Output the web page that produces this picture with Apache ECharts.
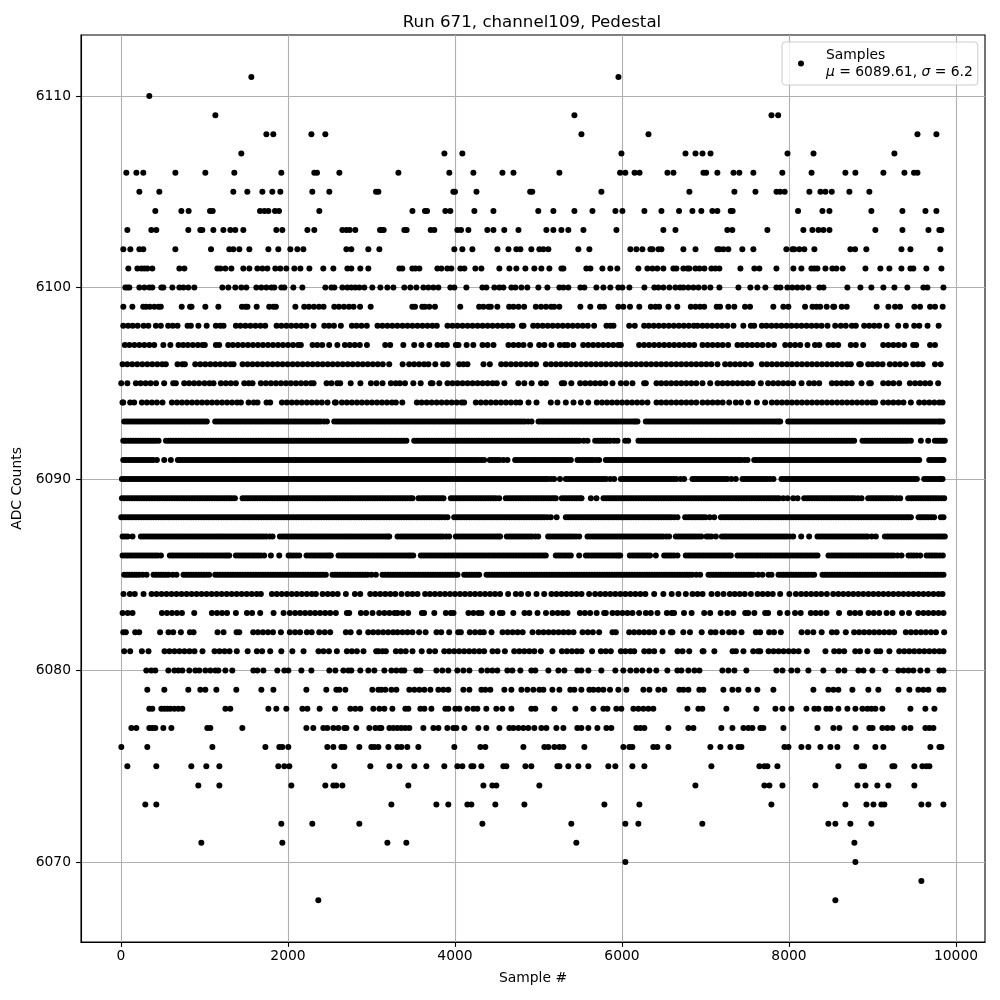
<!DOCTYPE html>
<html><head><meta charset="utf-8">
<style>html,body{margin:0;padding:0;background:#fff}#c{width:1000px;height:1000px}</style>
<script src="https://cdn.jsdelivr.net/npm/echarts@6/dist/echarts.min.js"></script>
</head><body><div id="c"></div>
<script>
const xTicks=[0,2000,4000,6000,8000,10000];
const yTicks=[6070,6080,6090,6100,6110];
const r6111=[1561,5957];
const r6110=[339];
const r6109=[1130,5430,7790,7870];
const r6108=[1741,1824,2280,2447,5514,6317,9538,9765];
const r6107=[1441,3873,4088,5993,6760,6880,6964,7060,7982,8293,9262];
const r6106=[64,184,267,651,1010,1357,1920,2315,2347,2615,3322,3932,4220,4568,4700,5250,5977,6040,6150,6210,6544,6616,6975,7008,7142,7335,7405,7573,7920,8270,8675,8795,9130,9382,9497,9538];
const r6105=[220,459,1345,1513,1693,1812,1908,2291,2495,3054,3082,3980,4000,4257,4900,4925,5753,6807,7346,7598,7850,7893,7948,8244,8376,8436,8512,8723,8962];
const r6104=[411,723,810,1066,1098,1665,1717,1765,1844,1892,2375,3490,3640,3665,3884,3944,4232,4460,4997,5178,5430,5646,5921,6005,6268,6472,6683,6843,6950,7082,7142,7302,7325,8108,8400,8484,8986,9358,9634,9765];
const r6103=[76,363,423,806,950,974,1106,1226,1309,1369,1465,1860,1932,2232,2315,2651,2699,2739,2806,3102,3122,3146,3393,3421,3709,3752,4028,4072,4160,4387,4460,4590,4760,5094,5178,5274,5357,5538,5933,6495,6640,7261,7321,7741,8172,8280,8352,8412,8484,9034,9358,9670,9800,9824];
const r6102=[28,112,220,267,651,1078,1297,1345,1417,1537,1765,1884,2028,2112,2184,2699,2758,2962,3094,3992,4088,4208,4508,4640,4735,4783,4914,5010,5058,5118,5477,5609,6100,6172,6244,6340,6364,6436,6472,6735,6880,7142,7166,7214,7273,7441,7573,7968,8040,8063,8123,8183,8304,8735,8791,8926,9346,9454,9812];
const r6101=[88,196,244,280,315,375,699,759,1154,1190,1250,1322,1465,1537,1633,1693,1753,1848,1908,1980,2076,2148,2256,2423,2543,2711,2758,2866,2962,3334,3369,3489,3525,3573,3789,3837,3908,3956,4064,4112,4244,4316,4531,4651,4735,4843,4950,5034,5130,5274,5298,5573,5621,5765,5860,5944,6196,6304,6364,6423,6495,6615,6651,6735,6783,6807,6879,6927,6986,7070,7118,7166,7418,7585,7645,7849,8052,8148,8268,8304,8340,8436,8519,8567,8643,8915,9094,9202,9346,9454,9489,9645,9825];
const r6100=[52,76,100,220,280,339,375,483,507,615,699,747,806,878,1214,1285,1369,1441,1501,1621,1681,1741,1801,1836,1920,1956,2064,2172,2447,2519,2555,2651,2711,2758,2806,2854,2914,3010,3106,3190,3262,3393,3465,3537,3621,3681,3741,3801,3944,3992,4136,4328,4376,4471,4531,4579,4675,4723,4795,4866,4998,5106,5250,5298,5357,5501,5549,5693,5777,5860,5956,6004,6088,6268,6387,6435,6495,6567,6639,6695,6735,6795,6855,6915,6986,7058,7166,7394,7537,7621,7717,7849,7897,7980,8040,8100,8160,8232,8364,8412,8699,8855,8986,9130,9262,9417,9609,9657,9849];
const r6099=[28,136,266,300,345,400,450,477,727,827,845,1010,1166,1448,1490,1515,1625,1775,1825,1855,2088,2194,2250,2310,2370,2426,2554,2610,2670,2730,2785,2863,2990,3489,3521,3608,3640,3692,3760,4063,4289,4340,4400,4429,4507,4648,4700,4760,4828,4968,5030,5090,5150,5187,5249,5501,5620,5736,5784,5956,6016,6096,6207,6345,6400,6445,6555,6662,6824,6880,6934,6984,7134,7174,7273,7345,7473,7533,7812,7932,7992,8192,8281,8330,8373,8451,8529,8541,8631,8691,9050,9190,9270,9330,9501,9569,9689,9748,9840];
const r6098=[27,85,140,200,270,328,418,477,565,620,677,797,837,927,1026,1136,1190,1228,1376,1430,1490,1550,1610,1670,1727,1863,1920,1980,2040,2100,2160,2220,2306,2434,2490,2550,2633,2765,2820,2880,2944,3072,3130,3190,3250,3310,3371,3430,3490,3550,3610,3670,3730,3782,3910,3970,4030,4090,4150,4210,4270,4330,4390,4450,4510,4570,4630,4688,4800,4820,4936,4990,5050,5110,5170,5230,5290,5350,5410,5470,5530,5590,5666,5814,5860,5898,6086,6153,6265,6320,6380,6440,6500,6560,6620,6680,6740,6800,6860,6904,6964,7020,7080,7140,7200,7260,7335,7453,7543,7583,7675,7730,7790,7850,7910,7970,8030,8090,8150,8210,8270,8330,8390,8461,8553,8620,8680,8753,8800,8900,8960,9020,9080,9170,9307,9399,9499,9560,9659,9792];
const r6097=[46,100,160,220,280,340,398,507,591,689,745,800,860,920,975,1004,1136,1176,1284,1340,1400,1460,1520,1580,1640,1700,1760,1820,1880,1940,2000,2060,2120,2154,2294,2350,2410,2493,2591,2681,2740,2800,2860,2945,3164,3224,3381,3511,3598,3692,3790,3850,3902,4010,4042,4139,4219,4329,4390,4461,4640,4700,4760,4820,4900,5008,5070,5155,5255,5310,5347,5417,5535,5595,5655,5715,5775,5835,5895,5955,5986,6205,6265,6325,6385,6445,6505,6565,6625,6685,6745,6805,6864,6964,7025,7085,7145,7205,7271,7383,7440,7500,7560,7620,7682,7752,7820,7954,8014,8074,8134,8221,8311,8363,8473,8530,8589,8740,8800,8888,9128,9190,9250,9310,9379,9487,9523,9689,9748];
const r6096=[19,75,135,195,255,315,375,435,495,537,677,735,765,889,950,1010,1070,1130,1190,1250,1310,1348,1456,1515,1575,1635,1695,1755,1815,1875,1935,1995,2055,2115,2175,2235,2295,2355,2415,2475,2535,2595,2655,2715,2775,2835,2895,2955,3015,3075,3135,3212,3373,3451,3510,3570,3630,3682,3764,3858,3910,4050,4100,4149,4341,4417,4553,4610,4670,4730,4790,4850,4910,4970,5088,5150,5210,5270,5330,5390,5450,5510,5570,5630,5690,5750,5810,5870,5930,5990,6050,6110,6170,6230,6290,6350,6410,6470,6530,6590,6650,6710,6770,6830,6890,6950,7010,7070,7143,7235,7295,7355,7415,7475,7543,7675,7735,7795,7855,7915,7975,8035,8095,8155,8215,8275,8335,8395,8455,8515,8575,8635,8695,8740,8840,8860,8948,9000,9060,9120,9207,9270,9330,9399,9487,9545,9599,9748,9816];
const r6095=[3,76,178,235,295,355,420,517,625,657,757,815,875,935,1000,1060,1108,1196,1255,1315,1376,1476,1530,1575,1675,1735,1795,1855,1915,1975,2035,2095,2155,2215,2275,2306,2462,2520,2590,2625,2751,2867,2993,3060,3132,3232,3290,3340,3401,3501,3589,3710,3730,3812,3910,3970,4030,4090,4150,4210,4270,4330,4390,4450,4501,4591,4758,4830,4918,5030,5088,5279,5307,5393,5499,5560,5620,5680,5740,5800,5886,5986,6050,6125,6265,6285,6413,6470,6530,6590,6650,6710,6770,6830,6890,6964,7056,7144,7204,7264,7324,7384,7444,7504,7564,7662,7750,7810,7870,7930,7990,8050,8150,8241,8300,8361,8513,8570,8630,8690,8750,8868,8960,8980,9128,9190,9250,9319,9447,9510,9570,9630,9690,9786];
const r6094=[18,27,110,158,250,310,370,430,497,609,670,730,790,850,910,970,1030,1090,1150,1210,1270,1330,1390,1436,1528,1590,1635,1743,1787,1927,1985,2045,2105,2165,2225,2285,2345,2405,2473,2561,2573,2645,2705,2765,2825,2885,2945,3005,3065,3125,3185,3245,3292,3369,3543,3600,3660,3720,3780,3840,3900,3960,4020,4080,4109,4249,4310,4370,4430,4490,4550,4610,4670,4730,4780,4880,4976,5147,5227,5327,5419,5507,5595,5698,5760,5820,5880,5940,6000,6060,6120,6180,6240,6305,6413,6470,6530,6590,6650,6710,6770,6830,6890,6964,7025,7085,7145,7205,7283,7363,7425,7511,7615,7714,7794,7855,7915,7975,8035,8095,8155,8215,8275,8335,8395,8455,8515,8575,8635,8695,8755,8815,8875,8935,8995,9032,9128,9190,9250,9310,9370,9459,9559,9620,9680,9740,9800,9838];
const r6093=[38,98,160,220,280,340,400,460,520,580,640,700,760,820,880,940,1000,1028,1128,1190,1250,1310,1370,1430,1490,1550,1610,1670,1730,1790,1850,1910,1970,2030,2090,2150,2210,2270,2330,2390,2466,2554,2615,2675,2735,2795,2855,2915,2975,3035,3095,3155,3215,3275,3335,3395,3455,3515,3575,3635,3695,3755,3815,3875,3935,3995,4055,4115,4175,4235,4295,4355,4415,4475,4535,4595,4655,4715,4775,4835,4916,5000,5060,5120,5180,5240,5300,5360,5420,5480,5540,5600,5660,5720,5780,5840,5900,5960,6020,6080,6140,6185,6285,6345,6405,6465,6525,6585,6645,6705,6765,6825,6885,6945,7005,7065,7125,7185,7245,7305,7365,7425,7485,7545,7605,7665,7725,7785,7845,7894,7990,8050,8110,8170,8230,8290,8350,8410,8470,8530,8590,8650,8710,8770,8830,8890,8950,9010,9070,9130,9190,9250,9310,9370,9430,9490,9550,9610,9670,9730,9790,9838];
const r6092=[27,85,145,205,265,325,385,450,538,598,658,718,778,838,898,958,1018,1078,1138,1198,1258,1318,1378,1438,1498,1558,1618,1678,1738,1798,1858,1918,1978,2038,2098,2158,2218,2278,2338,2398,2458,2518,2578,2638,2698,2758,2818,2878,2938,2998,3058,3118,3178,3238,3298,3358,3418,3511,3570,3630,3690,3750,3810,3870,3930,3990,4050,4110,4170,4230,4290,4350,4410,4470,4530,4590,4650,4710,4770,4830,4890,4950,5010,5070,5130,5190,5250,5310,5370,5430,5490,5587,5678,5740,5800,5860,5946,6038,6074,6197,6260,6320,6380,6440,6500,6560,6620,6680,6740,6800,6860,6920,6980,7040,7100,7160,7220,7280,7340,7400,7460,7520,7580,7640,7700,7760,7820,7880,7940,8000,8060,8120,8180,8240,8300,8360,8420,8480,8540,8600,8660,8720,8780,8880,8940,9000,9060,9120,9180,9240,9300,9360,9420,9459,9579,9667,9747,9810,9866];
const r6091=[27,85,145,205,265,325,385,430,518,597,681,740,800,860,920,980,1040,1100,1160,1220,1280,1340,1400,1460,1520,1580,1640,1700,1760,1820,1880,1940,2000,2060,2120,2180,2240,2300,2360,2420,2480,2540,2600,2660,2720,2780,2840,2900,2960,3020,3080,3140,3200,3260,3320,3380,3440,3500,3560,3620,3680,3740,3800,3860,3920,3980,4040,4100,4160,4220,4280,4349,4417,4475,4535,4628,4720,4780,4840,4900,4960,5020,5080,5140,5200,5260,5320,5387,5467,5530,5590,5650,5726,5806,5865,5925,5985,6045,6105,6165,6225,6285,6345,6405,6465,6525,6585,6645,6705,6765,6825,6885,6945,7005,7065,7125,7185,7245,7305,7365,7425,7503,7583,7645,7705,7765,7825,7885,7945,8005,8065,8125,8185,8245,8305,8365,8425,8485,8545,8605,8665,8725,8785,8845,8905,8965,9025,9085,9145,9205,9265,9325,9385,9445,9505,9559,9679,9740,9800,9850];
const r6090=[11,70,130,190,250,310,370,430,490,550,610,670,730,790,850,910,970,1030,1090,1150,1210,1270,1330,1390,1450,1510,1570,1630,1690,1750,1810,1870,1930,1990,2050,2110,2170,2230,2290,2350,2410,2470,2530,2590,2650,2710,2770,2830,2890,2950,3010,3070,3130,3190,3250,3310,3370,3430,3490,3550,3610,3670,3730,3790,3850,3910,3970,4030,4090,4150,4210,4270,4330,4390,4450,4510,4570,4630,4690,4750,4810,4870,4930,4990,5050,5110,5187,5257,5327,5390,5450,5510,5570,5630,5690,5750,5810,5906,5986,6050,6110,6170,6230,6290,6350,6410,6470,6530,6590,6650,6744,6844,6900,6960,7020,7080,7140,7200,7260,7363,7443,7500,7560,7620,7680,7740,7814,7910,7970,8030,8090,8150,8210,8270,8330,8390,8450,8510,8570,8630,8690,8750,8810,8870,8930,8990,9050,9110,9170,9230,9290,9350,9410,9470,9531,9619,9680,9740,9800,9838];
const r6089=[11,70,130,190,250,310,370,430,490,550,610,670,730,790,850,910,970,1030,1090,1150,1210,1270,1330,1364,1456,1515,1575,1635,1695,1755,1815,1875,1935,1995,2055,2115,2175,2235,2295,2355,2415,2475,2535,2595,2655,2715,2775,2835,2895,2955,3015,3075,3135,3195,3255,3315,3375,3435,3491,3563,3625,3685,3745,3805,3862,3950,4010,4070,4130,4190,4250,4310,4370,4430,4490,4529,4608,4670,4730,4790,4850,4910,4970,5030,5090,5150,5207,5279,5340,5400,5460,5515,5627,5694,5778,5840,5900,5960,6020,6080,6140,6200,6260,6320,6380,6440,6500,6560,6620,6680,6740,6800,6860,6920,6980,7040,7100,7160,7220,7280,7340,7400,7460,7520,7580,7640,7700,7760,7820,7880,7982,8050,8102,8182,8245,8305,8365,8425,8485,8545,8605,8665,8725,8785,8868,8948,9010,9070,9130,9190,9250,9331,9427,9490,9550,9610,9670,9730,9790,9858];
const r6088=[3,60,120,180,240,300,360,420,480,540,600,660,720,780,840,900,960,1020,1080,1140,1200,1260,1320,1380,1440,1500,1560,1620,1680,1740,1800,1860,1920,1980,2040,2100,2160,2220,2280,2340,2400,2460,2520,2580,2640,2700,2760,2820,2880,2940,3000,3060,3120,3180,3240,3300,3360,3420,3480,3540,3600,3660,3720,3780,3840,3910,3990,4050,4110,4170,4230,4290,4350,4410,4470,4530,4590,4650,4710,4770,4830,4890,4950,5010,5070,5147,5217,5327,5390,5450,5510,5570,5630,5690,5750,5810,5870,5930,5990,6050,6110,6170,6230,6290,6350,6410,6470,6530,6590,6664,6756,6820,6880,6940,7000,7104,7184,7245,7305,7365,7425,7485,7545,7605,7665,7725,7785,7845,7905,7965,8025,8085,8145,8205,8265,8325,8385,8445,8505,8565,8625,8685,8745,8805,8865,8925,8985,9045,9105,9165,9225,9285,9345,9405,9459,9551,9610,9670,9738,9818,9850];
const r6087=[19,80,138,238,300,360,420,480,540,600,660,720,780,840,900,960,1020,1080,1140,1200,1260,1320,1380,1440,1500,1560,1620,1680,1740,1815,1903,1965,2025,2085,2145,2205,2265,2325,2385,2445,2505,2565,2625,2685,2745,2805,2865,2925,2985,3045,3105,3165,3212,3312,3375,3435,3495,3555,3615,3675,3735,3795,3855,3930,4010,4070,4130,4190,4250,4310,4370,4430,4490,4540,4620,4680,4740,4800,4860,4920,4996,5115,5175,5235,5295,5355,5415,5487,5587,5650,5710,5770,5830,5890,5950,6010,6070,6130,6190,6250,6310,6370,6430,6490,6564,6644,6705,6765,6825,6885,6950,7012,7070,7124,7196,7255,7315,7375,7435,7495,7555,7615,7675,7735,7795,7855,7915,7975,8050,8146,8241,8341,8400,8460,8520,8580,8640,8700,8760,8820,8880,8940,9040,9148,9210,9270,9330,9390,9450,9510,9570,9630,9690,9750,9810,9866];
const r6086=[19,80,140,200,260,320,380,440,478,585,645,705,765,825,885,945,1005,1065,1125,1185,1245,1296,1376,1436,1496,1556,1616,1676,1715,1795,1895,2007,2067,2134,2222,2285,2345,2405,2465,2513,2605,2665,2725,2785,2845,2905,2965,3025,3085,3145,3205,3265,3325,3385,3445,3499,3591,3650,3710,3770,3830,3890,3950,4010,4070,4130,4190,4250,4310,4370,4430,4490,4550,4610,4670,4730,4790,4850,4910,4970,5030,5087,5207,5267,5327,5387,5487,5567,5630,5690,5750,5810,5870,5930,5978,6094,6155,6215,6275,6335,6405,6505,6565,6625,6664,6764,6825,6885,6945,7005,7065,7125,7185,7245,7303,7383,7445,7505,7565,7625,7685,7745,7805,7865,7925,7985,8045,8105,8165,8225,8285,8341,8473,8535,8595,8655,8715,8775,8835,8895,8955,9015,9075,9135,9195,9255,9347,9431,9495,9571,9647,9710,9770,9842];
const r6085=[38,98,158,218,306,390,450,510,570,665,749,810,870,930,990,1056,1128,1190,1250,1310,1370,1430,1490,1550,1610,1670,1730,1790,1850,1910,1970,2030,2090,2150,2210,2270,2330,2390,2453,2533,2595,2655,2715,2775,2835,2895,2955,3052,3132,3195,3255,3315,3375,3435,3495,3555,3615,3675,3735,3795,3855,3915,3975,4030,4110,4170,4230,4289,4377,4440,4500,4560,4620,4680,4740,4800,4860,4920,4980,5040,5100,5160,5220,5280,5340,5400,5460,5520,5580,5640,5700,5760,5820,5880,5940,6000,6060,6120,6180,6240,6300,6360,6420,6480,6540,6600,6660,6720,6780,6840,6936,7036,7095,7155,7215,7275,7335,7395,7455,7515,7575,7682,7754,7790,7874,7935,7995,8055,8115,8175,8235,8301,8401,8460,8520,8580,8640,8700,8760,8820,8880,8940,9000,9060,9120,9180,9240,9300,9360,9420,9480,9540,9600,9660,9720,9780,9850];
const r6084=[30,106,165,270,366,425,485,545,605,665,725,785,845,905,965,1025,1085,1145,1205,1265,1325,1385,1445,1505,1565,1625,1675,1807,1865,1925,1985,2045,2105,2165,2225,2285,2334,2414,2475,2535,2595,2693,2801,2865,2985,3045,3105,3165,3225,3285,3359,3431,3490,3551,3642,3700,3760,3820,3880,3940,4000,4060,4120,4180,4240,4300,4360,4420,4480,4540,4636,4728,4790,4876,4976,5068,5155,5215,5275,5335,5395,5455,5515,5606,5678,5740,5800,5860,5920,5980,6040,6100,6160,6220,6280,6385,6495,6595,6676,6764,6844,6905,6965,7072,7144,7215,7291,7350,7410,7470,7543,7623,7685,7745,7805,7894,8004,8082,8145,8205,8265,8325,8385,8453,8529,8590,8650,8710,8770,8830,8890,8950,9010,9070,9130,9190,9250,9310,9370,9430,9490,9550,9610,9670,9730,9790,9838];
const r6083=[19,80,138,490,550,610,670,730,877,1088,1150,1210,1270,1376,1508,1570,1667,1827,1947,2022,2085,2145,2205,2265,2325,2385,2445,2505,2573,2705,2733,2873,2935,3012,3092,3155,3215,3275,3311,3371,3439,3603,3630,3752,3890,3950,3982,4161,4220,4280,4317,4447,4537,4568,4698,4832,4890,4988,5089,5167,5230,5290,5347,5495,5555,5618,5696,5786,5806,5886,5945,6005,6065,6125,6205,6285,6345,6425,6537,6595,6624,6742,6834,6984,7056,7181,7261,7333,7475,7511,7585,7714,7750,7890,7982,8072,8140,8261,8320,8380,8449,8599,8728,8790,8852,8952,9015,9080,9168,9239,9353,9437,9547,9610,9670,9730,9790,9850];
const r6082=[27,58,170,218,468,569,625,717,825,869,1156,1228,1384,1416,1583,1640,1700,1760,1820,1915,2022,2085,2145,2226,2284,2374,2440,2505,2693,2750,2853,2961,3020,3080,3140,3200,3260,3311,3371,3430,3490,3570,3648,3778,3835,3930,4038,4070,4177,4240,4300,4345,4437,4569,4630,4690,4750,4810,4928,5000,5060,5120,5180,5240,5300,5360,5419,5527,5590,5650,5726,5886,5926,6086,6145,6205,6265,6325,6385,6485,6585,6604,6734,6814,6954,7064,7120,7203,7283,7345,7431,7603,7654,7762,7820,7902,8150,8221,8291,8391,8513,8570,8680,8780,8840,8900,8960,9020,9080,9140,9200,9259,9399,9460,9520,9580,9640,9700,9760,9858];
const r6081=[38,110,250,329,521,580,640,700,760,820,880,976,1120,1180,1240,1300,1387,1517,1627,1690,1787,1920,2052,2186,2365,2425,2490,2585,2705,2765,2825,2904,3056,3084,3132,3172,3292,3350,3410,3491,3601,3693,3761,3871,3930,3990,4050,4110,4170,4230,4290,4349,4449,4510,4597,4709,4770,4830,4890,4950,5028,5166,5280,5340,5400,5460,5515,5641,5747,5805,5866,5986,6040,6100,6146,6266,6325,6385,6485,6665,6725,6805,6965,6976,7106,7324,7364,7454,7571,7630,7655,7755,7815,7875,7935,7995,8055,8115,8214,8436,8541,8600,8661,8793,8850,8940,9048,9092,9202,9320,9380,9440,9500,9560,9620,9680,9740,9800,9849];
const r6080=[303,363,411,567,639,687,735,818,890,938,1010,1070,1130,1166,1250,1333,1585,1633,1705,1872,1956,2004,2160,2280,2495,2567,2663,2723,2758,2866,2962,3034,3154,3238,3298,3358,3393,3537,3585,3777,3848,3920,4028,4100,4172,4316,4387,4447,4507,4627,4687,4783,4914,4962,5118,5238,5310,5465,5513,5597,5753,5920,6016,6100,6172,6244,6328,6411,6543,6663,6711,6795,6867,6927,7202,7274,7346,7489,7849,7921,8028,8100,8232,8411,8591,8663,8831,8891,8998,9154,9310,9370,9430,9489,9573,9657,9801,9849];
const r6079=[315,519,806,950,1010,1142,1381,1681,1825,2220,2459,2579,2615,2687,3010,3082,3118,3166,3238,3298,3453,3513,3573,3633,3705,3801,3860,3920,4100,4172,4316,4363,4423,4591,4675,4795,4866,4938,5010,5058,5166,5250,5381,5429,5513,5609,5657,5717,5777,5856,5956,6052,6256,6328,6435,6507,6687,6735,6795,6926,6974,7214,7322,7394,7513,7621,7813,8292,8471,8531,8591,8759,8950,9070,9310,9441,9549,9609,9669,9801,9849];
const r6078=[339,375,483,519,555,591,639,687,735,1250,1309,1765,1860,1980,2172,2232,2379,2563,2747,2806,2866,3022,3094,3154,3250,3405,3441,3585,3633,3717,3884,3920,4004,4052,4148,4220,4268,4375,4495,4567,4675,4914,4962,5190,5441,5657,5777,5825,5932,5992,6136,6196,6256,6316,6375,6783,6915,6962,7250,7609,7837,7921,8028,8208,8304,8352,8447,8495,8591,8699,8795,8879,8938,8986,9034,9118,9454,9633,9741];
const r6077=[124,184,339,375,411,507,603,1034,1070,1453,2220,2303,2423,2471,2543,2603,2675,2699,2818,2974,3046,3094,3118,3214,3262,3310,3358,3405,3453,3621,3741,3801,3908,3980,4016,4112,4280,4375,4531,4651,4699,4759,4819,4878,4950,5034,5094,5214,5298,5465,5513,5597,5705,5813,5872,6172,6220,6268,6555,6795,6855,7190,7322,7454,7513,7561,7657,7693,7933,8340,8531,8603,8795,8962,9000,9118,9178,9238,9382,9454,9633,9681,9729];
const r6076=[4,315,1094,1729,1896,1932,2004,2471,2543,2639,2675,2854,2998,3034,3082,3202,3310,3358,3429,3561,3992,4304,4363,4819,5070,5118,5190,5250,5298,5549,6016,6088,6124,6375,6423,6555,7058,7178,7298,7394,7430,7945,7993,8148,8232,8376,8495,8579,8807,9034,9130,9693,9801,9825];
const r6075=[76,423,842,1022,1178,1884,1956,2016,2555,2986,3214,3334,3513,3657,3872,4028,4088,4196,4220,4316,4579,4615,4843,4914,5226,5250,5357,5477,5597,5836,5920,6124,6268,7070,7645,7705,7741,7861,8591,8867,8899,9238,9262,9501,9597,9645,9681];
const r6074=[926,1178,2040,2447,2543,2579,2651,3441,4340,4447,4495,5010,6879,7705,7765,7921,8316,8819,8915,9058,9190,9501];
const r6073=[291,423,3238,3777,3920,4148,4196,4483,4831,5789,6208,7789,8675,8927,9011,9106,9142,9585,9669,9849];
const r6072=[1920,2291,2854,4328,5393,6040,6196,6962,8471,8555,8735,8986];
const r6071=[962,1932,3190,3417,5453,8783];
const r6070=[6040,8795];
const r6069=[9585];
const r6068=[2363,8555];
const f6093=[68,130,190,250,310,370,430,490,550,610,670,730,790,850,910,970,1158,1220,1280,1340,1400,1460,1520,1580,1640,1700,1760,1820,1880,1940,2000,2060,2120,2180,2240,2300,2360,2430,2585,2645,2705,2765,2825,2885,2945,3005,3065,3125,3185,3245,3305,3365,3425,3485,3545,3605,3665,3725,3785,3845,3905,3965,4025,4085,4145,4205,4265,4325,4385,4445,4505,4565,4625,4685,4745,4805,4875,5030,5090,5150,5210,5270,5330,5390,5450,5510,5570,5630,5690,5750,5810,5870,5930,5990,6050,6110,6160,6315,6375,6435,6495,6555,6615,6675,6735,6795,6855,6915,6975,7035,7095,7155,7215,7275,7335,7395,7455,7515,7575,7635,7695,7755,7815,7870,8020,8080,8140,8200,8260,8320,8380,8440,8500,8560,8620,8680,8740,8800,8860,8920,8980,9040,9100,9160,9220,9280,9340,9400,9460,9520,9580,9640,9700,9760,9810];
const f6092=[55,115,175,235,295,355,415,568,628,688,748,808,868,928,988,1048,1108,1168,1228,1288,1348,1408,1468,1528,1588,1648,1708,1768,1828,1888,1948,2008,2068,2128,2188,2248,2308,2368,2428,2488,2548,2608,2668,2728,2788,2848,2908,2968,3028,3088,3148,3208,3268,3328,3388,3540,3600,3660,3720,3780,3840,3900,3960,4020,4080,4140,4200,4260,4320,4380,4440,4500,4560,4620,4680,4740,4800,4860,4920,4980,5040,5100,5160,5220,5280,5340,5400,5460,5540,5710,5770,5830,5905,6230,6290,6350,6410,6470,6530,6590,6650,6710,6770,6830,6890,6950,7010,7070,7130,7190,7250,7310,7370,7430,7490,7550,7610,7670,7730,7790,7850,7910,7970,8030,8090,8150,8210,8270,8330,8390,8450,8510,8570,8630,8690,8750,8910,8970,9030,9090,9150,9210,9270,9330,9390,9779,9838];
const f6091=[55,115,175,235,295,355,710,770,830,890,950,1010,1070,1130,1190,1250,1310,1370,1430,1490,1550,1610,1670,1730,1790,1850,1910,1970,2030,2090,2150,2210,2270,2330,2390,2450,2510,2570,2630,2690,2750,2810,2870,2930,2990,3050,3110,3170,3230,3290,3350,3410,3470,3530,3590,3650,3710,3770,3830,3890,3950,4010,4070,4130,4190,4250,4315,4445,4505,4580,4750,4810,4870,4930,4990,5050,5110,5170,5230,5290,5350,5497,5560,5620,5690,5835,5895,5955,6015,6075,6135,6195,6255,6315,6375,6435,6495,6555,6615,6675,6735,6795,6855,6915,6975,7035,7095,7155,7215,7275,7335,7395,7465,7613,7675,7735,7795,7855,7915,7975,8035,8095,8155,8215,8275,8335,8395,8455,8515,8575,8635,8695,8755,8815,8875,8935,8995,9055,9115,9175,9235,9295,9355,9415,9475,9530,9710,9770,9825];
const f6090=[40,100,160,220,280,340,400,460,520,580,640,700,760,820,880,940,1000,1060,1120,1180,1240,1300,1360,1420,1480,1540,1600,1660,1720,1780,1840,1900,1960,2020,2080,2140,2200,2260,2320,2380,2440,2500,2560,2620,2680,2740,2800,2860,2920,2980,3040,3100,3160,3220,3280,3340,3400,3460,3520,3580,3640,3700,3760,3820,3880,3940,4000,4060,4120,4180,4240,4300,4360,4420,4480,4540,4600,4660,4720,4780,4840,4900,4960,5020,5080,5150,5358,5420,5480,5540,5600,5660,5720,5780,5860,6018,6080,6140,6200,6260,6320,6380,6440,6500,6560,6620,6700,6870,6930,6990,7050,7110,7170,7230,7310,7470,7530,7590,7650,7710,7775,7940,8000,8060,8120,8180,8240,8300,8360,8420,8480,8540,8600,8660,8720,8780,8840,8900,8960,9020,9080,9140,9200,9260,9320,9380,9440,9500,9650,9710,9770,9820];
const f6089=[40,100,160,220,280,340,400,460,520,580,640,700,760,820,880,940,1000,1060,1120,1180,1240,1300,1485,1545,1605,1665,1725,1785,1845,1905,1965,2025,2085,2145,2205,2265,2325,2385,2445,2505,2565,2625,2685,2745,2805,2865,2925,2985,3045,3105,3165,3225,3285,3345,3405,3465,3595,3655,3715,3775,3835,3980,4040,4100,4160,4220,4280,4340,4400,4460,4640,4700,4760,4820,4880,4940,5000,5060,5120,5180,5310,5370,5430,5490,5810,5870,5930,5990,6050,6110,6170,6230,6290,6350,6410,6470,6530,6590,6650,6710,6770,6830,6890,6950,7010,7070,7130,7190,7250,7310,7370,7430,7490,7550,7610,7670,7730,7790,7850,7930,8215,8275,8335,8395,8455,8515,8575,8635,8695,8755,8825,8980,9040,9100,9160,9220,9290,9460,9520,9580,9640,9700,9760,9825];
const f6088=[30,90,150,210,270,330,390,450,510,570,630,690,750,810,870,930,990,1050,1110,1170,1230,1290,1350,1410,1470,1530,1590,1650,1710,1770,1830,1890,1950,2010,2070,2130,2190,2250,2310,2370,2430,2490,2550,2610,2670,2730,2790,2850,2910,2970,3030,3090,3150,3210,3270,3330,3390,3450,3510,3570,3630,3690,3750,3810,3875,4020,4080,4140,4200,4260,4320,4380,4440,4500,4560,4620,4680,4740,4800,4860,4920,4980,5040,5105,5358,5420,5480,5540,5600,5660,5720,5780,5840,5900,5960,6020,6080,6140,6200,6260,6320,6380,6440,6500,6560,6625,6790,6850,6910,6970,7050,7215,7275,7335,7395,7455,7515,7575,7635,7695,7755,7815,7875,7935,7995,8055,8115,8175,8235,8295,8355,8415,8475,8535,8595,8655,8715,8775,8835,8895,8955,9015,9075,9135,9195,9255,9315,9375,9430,9580,9640,9705];
const f6087=[50,268,330,390,450,510,570,630,690,750,810,870,930,990,1050,1110,1170,1230,1290,1350,1410,1470,1530,1590,1650,1710,1780,1935,1995,2055,2115,2175,2235,2295,2355,2415,2475,2535,2595,2655,2715,2775,2835,2895,2955,3015,3075,3135,3190,3345,3405,3465,3525,3585,3645,3705,3765,3825,3895,4040,4100,4160,4220,4280,4340,4400,4460,4515,4650,4710,4770,4830,4890,4960,5145,5205,5265,5325,5385,5450,5618,5680,5740,5800,5860,5920,5980,6040,6100,6160,6220,6280,6340,6400,6460,6530,6675,6735,6795,6855,6918,7040,7226,7285,7345,7405,7465,7525,7585,7645,7705,7765,7825,7885,7945,8010,8370,8430,8490,8550,8610,8670,8730,8790,8850,8910,8990,9180,9240,9300,9360,9420,9480,9540,9600,9660,9720,9780,9838];
const f6086=[50,110,170,230,290,350,410,615,675,735,795,855,915,975,1035,1095,1155,1215,1270,1406,1466,1526,1586,1646,2035,2100,2255,2315,2375,2435,2490,2635,2695,2755,2815,2875,2935,2995,3055,3115,3175,3235,3295,3355,3415,3470,3620,3680,3740,3800,3860,3920,3980,4040,4100,4160,4220,4280,4340,4400,4460,4520,4580,4640,4700,4760,4820,4880,4940,5000,5060,5237,5297,5357,5598,5660,5720,5780,5840,5900,5955,6125,6185,6245,6305,6535,6595,6795,6855,6915,6975,7035,7095,7155,7215,7275,7414,7475,7535,7595,7655,7715,7775,7835,7895,7955,8015,8075,8135,8195,8255,8315,8504,8565,8625,8685,8745,8805,8865,8925,8985,9045,9105,9165,9225,9300,9463,9530,9680,9740,9805];
const f6085=[68,128,188,260,420,480,540,620,780,840,900,960,1020,1158,1220,1280,1340,1400,1460,1520,1580,1640,1700,1760,1820,1880,1940,2000,2060,2120,2180,2240,2300,2360,2420,2564,2625,2685,2745,2805,2865,2925,3000,3162,3225,3285,3345,3405,3465,3525,3585,3645,3705,3765,3825,3885,3945,4005,4140,4200,4260,4408,4470,4530,4590,4650,4710,4770,4830,4890,4950,5010,5070,5130,5190,5250,5310,5370,5430,5490,5550,5610,5670,5730,5790,5850,5910,5970,6030,6090,6150,6210,6270,6330,6390,6450,6510,6570,6630,6690,6750,6810,6890,7065,7125,7185,7245,7305,7365,7425,7485,7545,7630,7905,7965,8025,8085,8145,8205,8270,8430,8490,8550,8610,8670,8730,8790,8850,8910,8970,9030,9090,9150,9210,9270,9330,9390,9450,9510,9570,9630,9690,9750,9815];
const levels=[6111,6110,6109,6108,6107,6106,6105,6104,6103,6102,6101,6100,6099,6098,6097,6096,6095,6094,6093,6092,6091,6090,6089,6088,6087,6086,6085,6084,6083,6082,6081,6080,6079,6078,6077,6076,6075,6074,6073,6072,6071,6070,6069,6068,6093,6092,6091,6090,6089,6088,6087,6086,6085];
const rows=[r6111,r6110,r6109,r6108,r6107,r6106,r6105,r6104,r6103,r6102,r6101,r6100,r6099,r6098,r6097,r6096,r6095,r6094,r6093,r6092,r6091,r6090,r6089,r6088,r6087,r6086,r6085,r6084,r6083,r6082,r6081,r6080,r6079,r6078,r6077,r6076,r6075,r6074,r6073,r6072,r6071,r6070,r6069,r6068,f6093,f6092,f6091,f6090,f6089,f6088,f6087,f6086,f6085];
const points=[];
rows.forEach((r,i)=>r.forEach(x=>points.push([x,levels[i]])));
const font='"DejaVu Sans"';
const chart=echarts.init(document.getElementById('c'),null,{renderer:'canvas'});
chart.setOption({
 animation:false,
 backgroundColor:'#fff',
 title:{text:'Run 671, channel109, Pedestal',left:527,top:9,textAlign:'center',textStyle:{fontFamily:font,fontSize:16.67,fontWeight:'normal',color:'#000'}},
 grid:{left:81,right:15,top:35,bottom:58,show:true,borderColor:'#000',borderWidth:1.1,backgroundColor:'transparent'},
 xAxis:{type:'value',min:-479,max:10347,name:'Sample #',nameLocation:'middle',nameGap:29,
  nameTextStyle:{fontFamily:font,fontSize:13.89,color:'#000'},
  axisLine:{show:true,onZero:false,lineStyle:{color:'#000',width:1.1}},
  axisTick:{show:true,length:4.9,lineStyle:{color:'#000',width:1.1},customValues:xTicks},
  axisLabel:{show:true,color:'#000',fontFamily:font,fontSize:13.89,margin:7,customValues:xTicks,formatter:v=>String(v)},
  splitLine:{show:true,lineStyle:{color:'#b0b0b0',width:1.1}}},
 yAxis:{type:'value',min:6065.82,max:6113.19,name:'ADC Counts',nameLocation:'middle',nameGap:52,
  nameTextStyle:{fontFamily:font,fontSize:13.89,color:'#000'},
  axisLine:{show:true,onZero:false,lineStyle:{color:'#000',width:1.1}},
  axisTick:{show:true,length:4.9,lineStyle:{color:'#000',width:1.1},customValues:yTicks},
  axisLabel:{show:true,color:'#000',fontFamily:font,fontSize:13.89,margin:10,customValues:yTicks,formatter:v=>String(v)},
  splitLine:{show:true,lineStyle:{color:'#b0b0b0',width:1.1}}},
 legend:{show:true,left:782,top:42,orient:'vertical',padding:[6,5,6,16],itemWidth:6,itemHeight:6,
  backgroundColor:'rgba(255,255,255,0.8)',borderColor:'#ccc',borderWidth:1,borderRadius:3,
  data:[{name:'Samples',icon:'circle'}],
  formatter:()=>'{a|Samples}\n{i|μ}{a| = 6089.61, }{i|σ}{a| = 6.2}',
  textStyle:{padding:[0,0,0,17],color:'#000',fontFamily:font,fontSize:13.89,
   rich:{a:{fontFamily:font,fontSize:13.89,color:'#000',lineHeight:17},i:{fontFamily:font,fontSize:13.89,fontStyle:'italic',color:'#000',lineHeight:17}}}},
 series:[{name:'Samples',type:'scatter',symbol:'circle',symbolSize:6,data:points,itemStyle:{color:'#000',opacity:1},silent:true,large:false,progressive:0}]
});
</script></body></html>
